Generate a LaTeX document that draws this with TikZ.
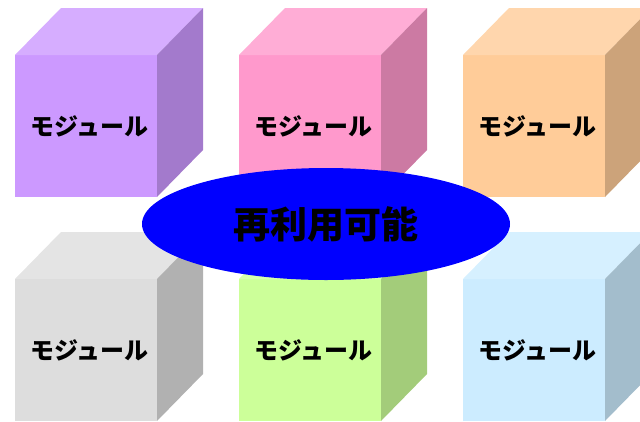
\documentclass[tikz,border=0pt]{standalone}
\usepackage{fontspec}
\newfontfamily\jp{Noto Sans CJK JP}
\usetikzlibrary{shapes.geometric}
\definecolor{pfront}{HTML}{CC99FF}\definecolor{ptop}{HTML}{D6ADFF}\definecolor{pside}{HTML}{A37ACC}
\definecolor{kfront}{HTML}{FF99CC}\definecolor{ktop}{HTML}{FFADD6}\definecolor{kside}{HTML}{CC7AA3}
\definecolor{ofront}{HTML}{FFCC99}\definecolor{otop}{HTML}{FFD6AD}\definecolor{oside}{HTML}{CCA37A}
\definecolor{gfront}{HTML}{DDDDDD}\definecolor{gtop}{HTML}{E4E4E4}\definecolor{gside}{HTML}{B1B1B1}
\definecolor{lfront}{HTML}{CCFF99}\definecolor{ltop}{HTML}{D6FFAD}\definecolor{lside}{HTML}{A3CC7A}
\definecolor{bfront}{HTML}{CCECFF}\definecolor{btop}{HTML}{D6F0FF}\definecolor{bside}{HTML}{A3BDCC}
\tikzset{
  frontface/.style={minimum width=142pt, minimum height=142pt, inner sep=0pt, outer sep=0pt,
    font=\jp\bfseries\fontsize{24pt}{24pt}\selectfont, text=black},
  hub/.style={ellipse, fill=blue, minimum width=368pt, minimum height=112pt, inner sep=0pt,
    font=\jp\bfseries\fontsize{37pt}{37pt}\selectfont, text=black}
}
\newcommand{\modcube}[6]{%
  \node[frontface, fill=#3] (#6) at (#1+71,#2+71) {\hspace*{7pt}モジュール};
  \fill[#4] (#6.north west) -- ++(46,-47) -- ++(142,0) -- (#6.north east) -- cycle;
  \fill[#5] (#6.north east) -- ++(46,-47) -- ++(0,142) -- (#6.south east) -- cycle;
}
\begin{document}
\begin{tikzpicture}[x=1pt,y=-1pt]
\useasboundingbox (0,0) rectangle (640,421);
\modcube{15}{55}{pfront}{ptop}{pside}{m1}
\modcube{239}{55}{kfront}{ktop}{kside}{m2}
\modcube{463}{55}{ofront}{otop}{oside}{m3}
\modcube{15}{279}{gfront}{gtop}{gside}{m4}
\modcube{239}{279}{lfront}{ltop}{lside}{m5}
\modcube{463}{279}{bfront}{btop}{bside}{m6}
\node[hub] (hub) at (326,224) {再利用可能};
\end{tikzpicture}
\end{document}
